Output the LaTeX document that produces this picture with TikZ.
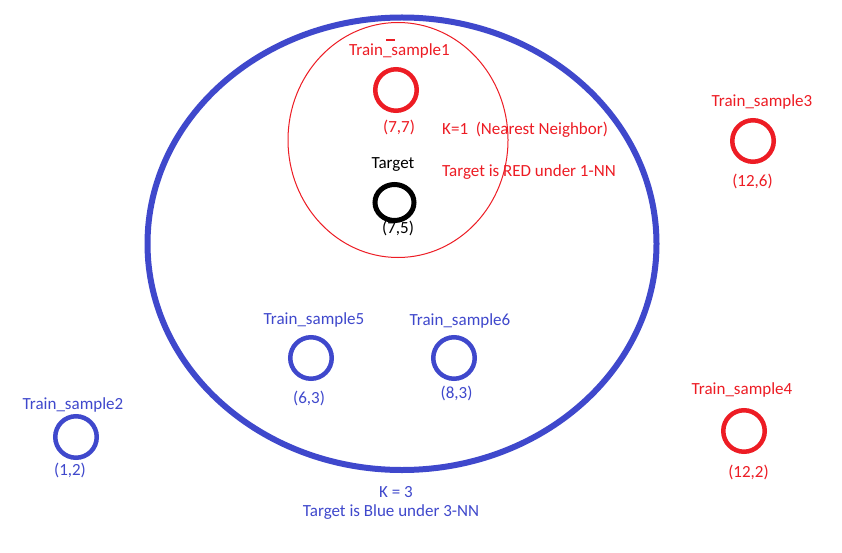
\documentclass[tikz,border=0pt]{standalone}
\usepackage{fontspec}
\setmainfont{Carlito}
\usetikzlibrary{shapes.geometric}
\definecolor{pred}{HTML}{ED1C24}
\definecolor{pblue}{HTML}{3F48CC}
\begin{document}
\begin{tikzpicture}[x=1pt,y=-1pt,
  lbl/.style={font=\fontsize{17}{19}\selectfont, inner sep=0pt, anchor=center},
  redlbl/.style={lbl, text=pred},
  bluelbl/.style={lbl, text=pblue},
  sample/.style={circle, draw, line width=4.5pt, minimum size=41.5pt, inner sep=0pt},
  redsample/.style={sample, draw=pred},
  bluesample/.style={sample, draw=pblue}]
\useasboundingbox[fill=white] (0,0) rectangle (842,553);

% big K=3 ellipse
\draw[pblue, line width=6pt] (402,243.75) ellipse [x radius=254.5, y radius=226.25];
% thin K=1 circle
\draw[pred, line width=1pt] (398,140) ellipse [x radius=110, y radius=117.5];

% samples
\node[redsample] (s1) at (396,90) {};
\node[redsample] (s3) at (753,141) {};
\node[redsample] (s4) at (744,431) {};
\node[bluesample] (s2) at (76,437) {};
\node[bluesample] (s5) at (311,358) {};
\node[bluesample] (s6) at (454,358) {};
\node[ellipse, draw=black, line width=5pt, minimum width=39pt, minimum height=36pt, inner sep=0pt] (t) at (394.5,202.5) {};

% labels
\draw[pred, line width=1.2pt] (386,40) -- (395,40);
\node[redlbl] (l1) at (399.5,51) {Train\_sample1};
\node[redlbl] (c1) at (399,127) {(7,7)};
\node[redlbl, anchor=west] (k1) at (442,130) {K=1\ \ (Nearest Neighbor)};
\node[redlbl, anchor=west] (r1) at (442,172.5) {Target is RED under 1-NN};
\node[lbl] (lt) at (393,164.5) {Target};
\node[lbl] (ct) at (398,228) {(7,5)};

\node[redlbl] (l3) at (762,102) {Train\_sample3};
\node[redlbl] (c3) at (752.5,181) {(12,6)};
\node[redlbl] (l4) at (742,390) {Train\_sample4};
\node[redlbl] (c4) at (748.5,472.5) {(12,2)};

\node[bluelbl] (l2) at (73,404.5) {Train\_sample2};
\node[bluelbl] (c2) at (70,470.5) {(1,2)};
\node[bluelbl] (l5) at (314,319.5) {Train\_sample5};
\node[bluelbl] (c5) at (309,398.5) {(6,3)};
\node[bluelbl] (l6) at (460,321) {Train\_sample6};
\node[bluelbl] (c6) at (456.5,393) {(8,3)};

\node[bluelbl] (k3) at (396,492.5) {K = 3};
\node[bluelbl] (r3) at (391,512.5) {Target is Blue under 3-NN};
\end{tikzpicture}
\end{document}
